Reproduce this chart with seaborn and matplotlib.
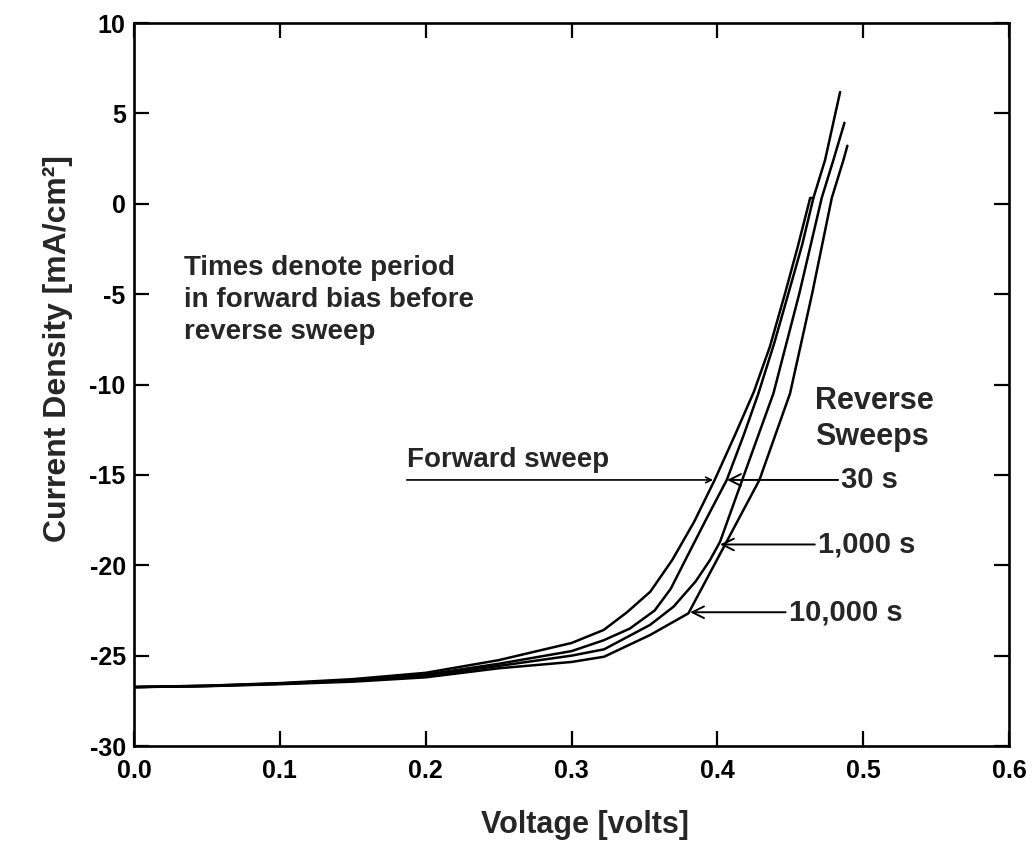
import numpy as np
import pandas as pd
import matplotlib
matplotlib.use("Agg")
import matplotlib.pyplot as plt
import seaborn as sns

# ---- data ----
fwd_v = [0.0, 0.05, 0.10, 0.15, 0.20, 0.25, 0.30, 0.322, 0.338, 0.354, 0.369, 0.384, 0.398, 0.412, 0.425, 0.436, 0.4464, 0.455, 0.4636, 0.4658]
fwd_j = [-26.74, -26.66, -26.52, -26.30, -25.95, -25.25, -24.30, -23.58, -22.60, -21.46, -19.71, -17.60, -15.30, -12.80, -10.40, -7.90, -4.95, -2.40, 0.32, 0.32]

s30_v = [0.0, 0.05, 0.10, 0.15, 0.20, 0.25, 0.30, 0.322, 0.340, 0.357, 0.368, 0.378, 0.392, 0.4064, 0.418, 0.4281, 0.439, 0.4487, 0.458, 0.4658, 0.4738, 0.4841]
s30_j = [-26.74, -26.67, -26.54, -26.35, -26.05, -25.45, -24.75, -24.15, -23.50, -22.50, -21.30, -19.71, -17.50, -15.28, -12.80, -10.49, -7.70, -4.95, -2.30, 0.32, 2.42, 6.18]

s1000_v = [0.0, 0.05, 0.10, 0.15, 0.20, 0.25, 0.30, 0.3223, 0.3538, 0.3698, 0.385, 0.395, 0.4018, 0.417, 0.4384, 0.4562, 0.4715, 0.4795, 0.4871]
s1000_j = [-26.74, -26.68, -26.56, -26.40, -26.12, -25.57, -25.00, -24.65, -23.30, -22.30, -20.90, -19.70, -18.70, -15.28, -10.49, -4.95, 0.32, 2.42, 4.48]

s10000_v = [0.0, 0.05, 0.10, 0.15, 0.20, 0.25, 0.30, 0.3223, 0.3538, 0.3801, 0.3996, 0.4288, 0.4498, 0.4650, 0.4784, 0.4864, 0.4891]
s10000_j = [-26.74, -26.69, -26.58, -26.44, -26.20, -25.70, -25.35, -25.06, -23.86, -22.66, -19.71, -15.28, -10.49, -4.95, 0.32, 2.42, 3.21]

curve_names = ["Forward sweep", "30 s", "1,000 s", "10,000 s"]

x_ticks = [0.0, 0.1, 0.2, 0.3, 0.4, 0.5, 0.6]
x_ticklabels = ["0.0", "0.1", "0.2", "0.3", "0.4", "0.5", "0.6"]
y_ticks = [10, 5, 0, -5, -10, -15, -20, -25, -30]

frames = []
for name, v, j in zip(curve_names,
                      [fwd_v, s30_v, s1000_v, s10000_v],
                      [fwd_j, s30_j, s1000_j, s10000_j]):
    frames.append(pd.DataFrame({"V": v, "J": j, "curve": name}))
df = pd.concat(frames, ignore_index=True)

# ---- style ----
sns.set_style("ticks")
plt.rcParams["font.family"] = ["Liberation Sans", "DejaVu Sans"]
plt.rcParams["font.weight"] = "bold"

fig = plt.figure(figsize=(10.35, 8.52), dpi=100)
ax = fig.add_axes([0.1295, 0.1244, 0.8455, 0.8486])

sns.lineplot(data=df, x="V", y="J", hue="curve", units="curve", estimator=None,
             sort=False, palette=["black"] * 4, linewidth=1.8, legend=False, ax=ax)

ax.set_xlim(0.0, 0.6)
ax.set_ylim(-30, 10)
ax.set_xticks(x_ticks)
ax.set_xticklabels(x_ticklabels)
ax.set_yticks(y_ticks)
ax.set_yticklabels([str(t) for t in y_ticks])

for s in ax.spines.values():
    s.set_visible(True)
    s.set_linewidth(1.9)
    s.set_color("black")

ax.tick_params(direction="in", top=True, right=True, length=11, width=1.6,
               labelsize=18, colors="black")
ax.tick_params(axis="x", pad=9)
ax.tick_params(axis="y", pad=6)
for lab in ax.get_xticklabels() + ax.get_yticklabels():
    lab.set_fontweight("bold")

ax.set_xlabel("Voltage [volts]", fontsize=22, fontweight="bold")
ax.xaxis.set_label_coords(0.515, -0.088)
ax.set_ylabel("Current Density [mA/cm²]", fontsize=23, fontweight="bold")
ax.yaxis.set_label_coords(-0.07, 0.55)

# ---- annotations ----
ax.text(0.034, -5.3, "Times denote period\nin forward bias before\nreverse sweep",
        fontsize=20, fontweight="bold", ha="left", va="center", linespacing=1.3)

ax.text(0.187, -14.2, "Forward sweep", fontsize=20, fontweight="bold", ha="left", va="center")
ax.annotate("", xy=(0.397, -15.28), xytext=(0.187, -15.28),
            arrowprops=dict(arrowstyle="->", lw=1.2, color="black", shrinkA=0, shrinkB=0))

ax.text(0.467, -11.9, "Reverse\nSweeps", fontsize=22, fontweight="bold", ha="left", va="center",
        linespacing=1.25)

ax.annotate("30 s", xy=(0.4066, -15.28), xytext=(0.485, -15.28),
            fontsize=21, fontweight="bold", ha="left", va="center",
            arrowprops=dict(arrowstyle="->", lw=1.4, color="black", shrinkA=0, shrinkB=0))
ax.annotate("1,000 s", xy=(0.4018, -18.85), xytext=(0.469, -18.85),
            fontsize=21, fontweight="bold", ha="left", va="center",
            arrowprops=dict(arrowstyle="->", lw=1.4, color="black", shrinkA=0, shrinkB=0))
ax.annotate("10,000 s", xy=(0.3813, -22.6), xytext=(0.449, -22.6),
            fontsize=21, fontweight="bold", ha="left", va="center",
            arrowprops=dict(arrowstyle="->", lw=1.4, color="black", shrinkA=0, shrinkB=0))

fig.savefig("out.png", dpi=100)
